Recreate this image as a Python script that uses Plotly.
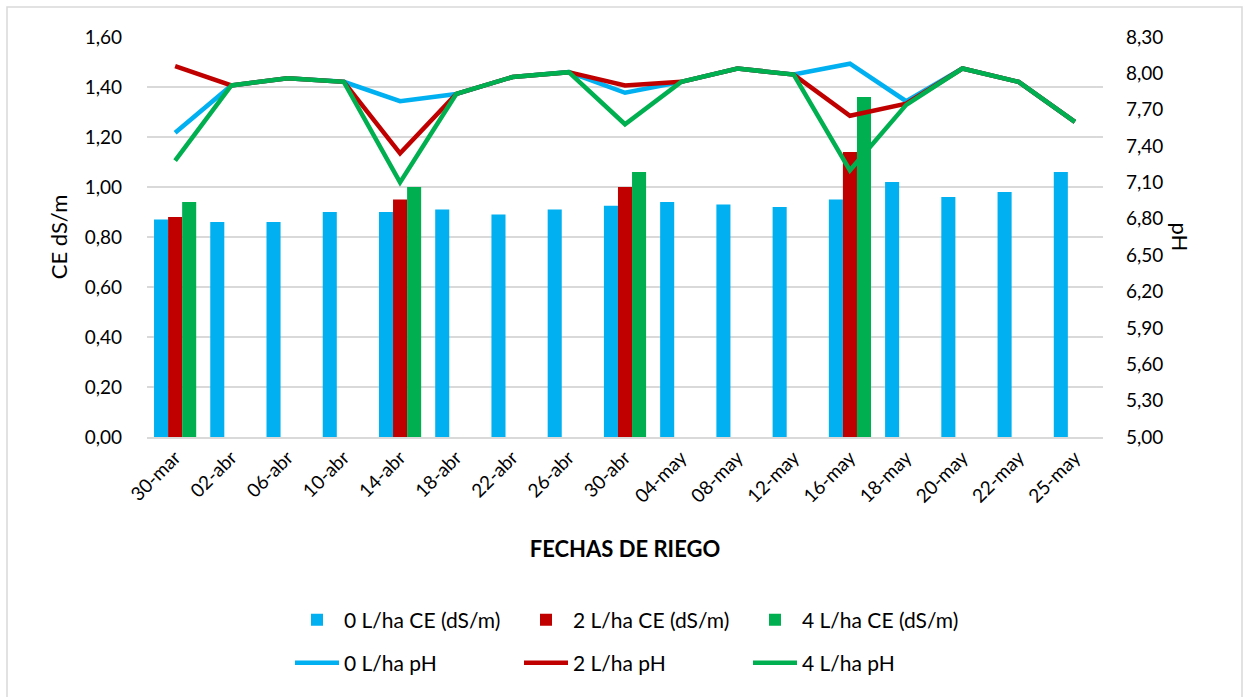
import plotly.graph_objects as go

# Fechas de riego (categorías del eje X)
fechas = ["30-mar", "02-abr", "06-abr", "10-abr", "14-abr", "18-abr", "22-abr", "26-abr",
          "30-abr", "04-may", "08-may", "12-may", "16-may", "18-may", "20-may", "22-may", "25-may"]

# Conductividad eléctrica (dS/m) por dosis
ce_0 = [0.87, 0.86, 0.86, 0.90, 0.90, 0.91, 0.89, 0.91, 0.925, 0.94, 0.93, 0.92, 0.95, 1.02, 0.96, 0.98, 1.06]
ce_2 = [0.88, None, None, None, 0.95, None, None, None, 1.00, None, None, None, 1.14, None, None, None, None]
ce_4 = [0.94, None, None, None, 1.00, None, None, None, 1.06, None, None, None, 1.36, None, None, None, None]

# pH por dosis
ph_0 = [7.51, 7.90, 7.96, 7.93, 7.77, 7.83, 7.97, 8.01, 7.84, 7.93, 8.04, 7.99, 8.08, 7.77, 8.04, 7.93, 7.60]
ph_2 = [8.06, 7.90, 7.96, 7.93, 7.34, 7.83, 7.97, 8.01, 7.90, 7.93, 8.04, 7.99, 7.65, 7.75, 8.04, 7.93, 7.60]
ph_4 = [7.28, 7.90, 7.96, 7.93, 7.10, 7.83, 7.97, 8.01, 7.58, 7.93, 8.04, 7.99, 7.20, 7.74, 8.04, 7.93, 7.60]

AZUL = "#00B0F0"
ROJO = "#C00000"
VERDE = "#00B050"
GRIS = "#D9D9D9"
FUENTE = "Lato"
TAM = 19

fig = go.Figure()

for nombre, vals, color in [("0 L/ha CE (dS/m)", ce_0, AZUL),
                            ("2 L/ha CE (dS/m)", ce_2, ROJO),
                            ("4 L/ha CE (dS/m)", ce_4, VERDE)]:
    fig.add_trace(go.Bar(x=fechas, y=vals, name=nombre, marker_color=color,
                         marker_line_width=0, legend="legend"))

for nombre, vals, color in [("0 L/ha pH", ph_0, AZUL),
                            ("2 L/ha pH", ph_2, ROJO),
                            ("4 L/ha pH", ph_4, VERDE)]:
    fig.add_trace(go.Scatter(x=fechas, y=vals, name=nombre, mode="lines",
                             line=dict(color=color, width=4.5), yaxis="y2",
                             legend="legend2"))

W, H = 1245, 697
L, R, T, B = 147, 142, 37, 260
pw, ph = W - L - R, H - T - B


def px_x(p):
    return (p - L) / pw


def px_y(p):
    return (H - B - p) / ph


leyenda = dict(orientation="h", x=px_x(290), xanchor="left", yanchor="middle",
               font=dict(size=21), itemwidth=44, entrywidth=170, traceorder="normal")

fig.update_layout(
    width=W, height=H,
    margin=dict(l=L, r=R, t=T, b=B),
    paper_bgcolor="white", plot_bgcolor="white",
    separators=",.",
    font=dict(family=FUENTE, size=TAM, color="#000000"),
    barmode="group", bargap=0.25, bargroupgap=0,
    xaxis=dict(
        type="category", tickangle=-45, showgrid=False,
        showline=True, linecolor=GRIS, linewidth=2,
        ticks="", tickfont=dict(size=TAM),
        title=dict(text="<b>FECHAS DE RIEGO</b>", font=dict(size=22), standoff=36),
    ),
    yaxis=dict(
        range=[0, 1.6], dtick=0.2, tick0=0, tickformat=".2f",
        showgrid=True, gridcolor=GRIS, gridwidth=1.5,
        zeroline=False, showline=False, ticks="",
        ticklabelstandoff=24, tickfont=dict(size=TAM),
        title=dict(text="CE dS/m", font=dict(size=22), standoff=10),
    ),
    yaxis2=dict(
        range=[5.0, 8.3], dtick=0.3, tick0=5.0, tickformat=".2f",
        overlaying="y", side="right", showgrid=False, zeroline=False,
        showline=False, ticks="", ticklabelstandoff=22, tickfont=dict(size=TAM),
    ),
    legend=dict(leyenda, y=px_y(620)),
    legend2=dict(leyenda, y=px_y(663)),
    showlegend=True,
)

# Título del eje secundario, girado hacia abajo
fig.add_annotation(text="pH", xref="paper", yref="paper", x=px_x(1196), y=px_y(237),
                   showarrow=False, textangle=90, font=dict(size=22, family=FUENTE))

# Marco del área del gráfico
fig.add_shape(type="rect", xref="paper", yref="paper",
              x0=px_x(7), x1=px_x(1242), y0=px_y(7), y1=px_y(702),
              line=dict(color=GRIS, width=1.5), fillcolor="rgba(0,0,0,0)", layer="below")

fig.write_html("out.html")
